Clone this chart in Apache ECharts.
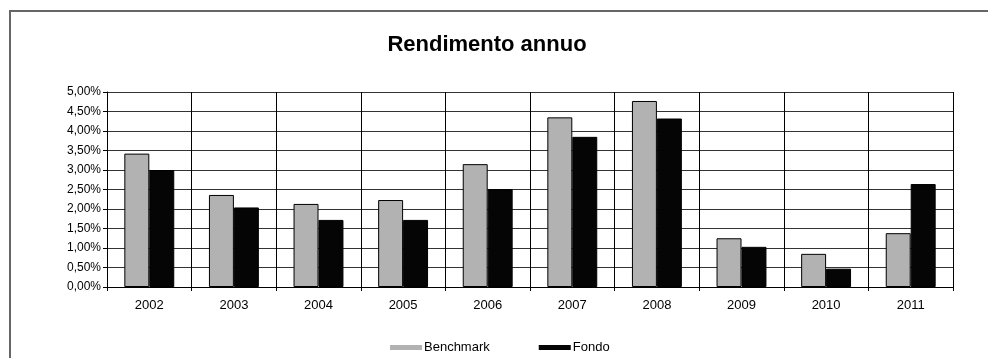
<!DOCTYPE html>
<html>
<head>
<meta charset="utf-8">
<script src="https://cdn.jsdelivr.net/npm/echarts@6/dist/echarts.min.js"></script>
<style>html,body{margin:0;padding:0;background:#fff}#c{width:988px;height:358px}</style>
</head>
<body>
<div id="c"></div>
<script>
var categories = ['2002','2003','2004','2005','2006','2007','2008','2009','2010','2011'];
var benchmark = [3.42, 2.36, 2.13, 2.23, 3.15, 4.35, 4.77, 1.25, 0.85, 1.38];
var fondo = [3.00, 2.04, 1.72, 1.72, 2.51, 3.85, 4.32, 1.03, 0.47, 2.64];

var chart = echarts.init(document.getElementById('c'));
var font = 'Liberation Sans, Arial, sans-serif';
chart.setOption({
  animation: false,
  backgroundColor: '#fff',
  textStyle: {fontFamily: font},
  title: {
    text: 'Rendimento annuo', left: 482, top: 29, textAlign: 'center',
    textStyle: {fontFamily: font, fontSize: 22, fontWeight: 'bold', color: '#000'}
  },
  graphic: [
    {type: 'polyline', shape: {points: [[10, 358], [10, 11], [988, 11]]},
     style: {stroke: '#666', lineWidth: 2, fill: null}}
  ],
  legend: {
    bottom: 4, left: 390, padding: 0,
    icon: 'rect', itemWidth: 32, itemHeight: 5, itemGap: 49,
    itemStyle: {borderWidth: 0},
    textStyle: {fontFamily: font, fontSize: 13, color: '#000', padding: [0, 0, 0, -3]},
    data: ['Benchmark', 'Fondo']
  },
  grid: {left: 107, right: 35, top: 92, bottom: 71},
  xAxis: {
    type: 'category', data: categories,
    axisLine: {lineStyle: {color: '#000', width: 1}},
    axisTick: {show: true, length: 4, lineStyle: {color: '#000'}},
    axisLabel: {color: '#000', fontSize: 13, fontFamily: font, margin: 12},
    splitLine: {show: true, lineStyle: {color: '#000', width: 1}}
  },
  yAxis: {
    type: 'value', min: 0, max: 5, interval: 0.5,
    axisLine: {show: true, lineStyle: {color: '#000', width: 1}},
    axisTick: {show: true, length: 4, lineStyle: {color: '#000'}},
    axisLabel: {color: '#000', fontSize: 12, fontFamily: font, margin: 6,
      formatter: function (v) { return v.toFixed(2).replace('.', ',') + '%'; }},
    splitLine: {show: true, lineStyle: {color: '#333', width: 1}}
  },
  series: [
    {name: 'Benchmark', type: 'bar', data: benchmark, barGap: '0%', barCategoryGap: '41%',
     itemStyle: {color: '#b2b2b2', borderColor: '#000', borderWidth: 1}},
    {name: 'Fondo', type: 'bar', data: fondo, barGap: '0%', barCategoryGap: '41%',
     itemStyle: {color: '#050505', borderColor: '#000', borderWidth: 1}}
  ]
});
</script>
</body>
</html>
